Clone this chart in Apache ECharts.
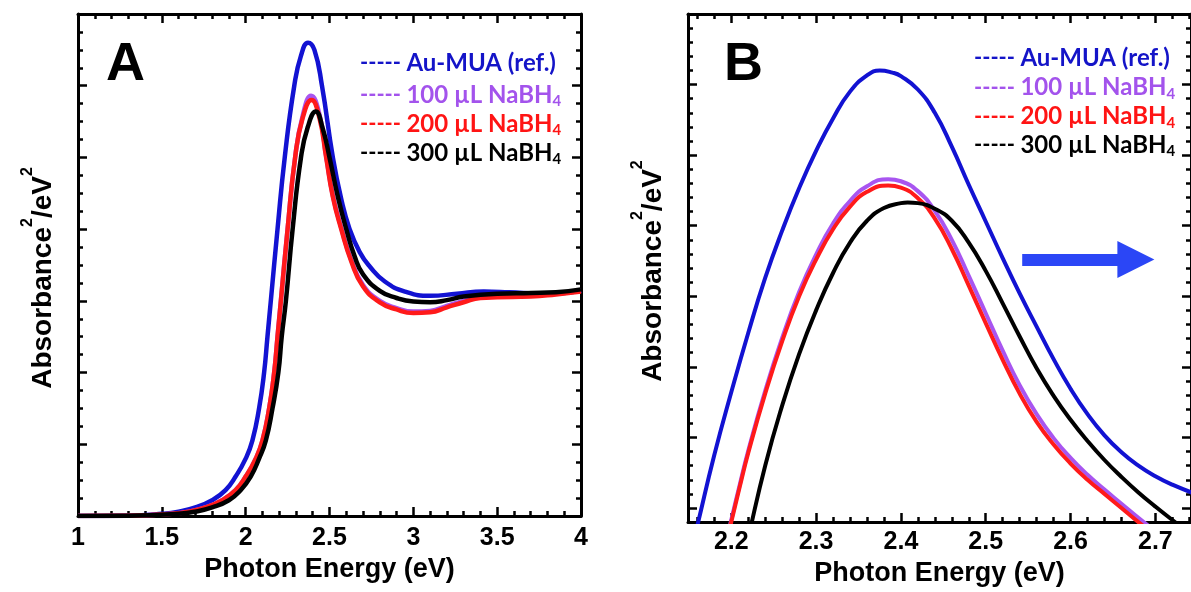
<!DOCTYPE html>
<html><head><meta charset="utf-8">
<script src="https://cdn.jsdelivr.net/npm/echarts@6/dist/echarts.min.js"></script>
<style>html,body{margin:0;padding:0;background:#fff}#c{width:1191px;height:592px}</style>
</head><body><div id="c"></div>
<script>
// ---------- data ----------
const seriesNames = ['Au-MUA (ref.)', '100 µL NaBH4', '200 µL NaBH4', '300 µL NaBH4'];

// Panel A: [photon energy (eV), absorbance^2/eV^2 (arb.)]
const aBlue = [[1.0,0],[1.3,0.005],[1.5,0.03],[1.6,0.06],[1.7,0.12],[1.8,0.22],[1.88,0.36],[1.94,0.55],[2.0,0.8],[2.04,1.05],[2.08,1.5],[2.11,2.0],[2.13,2.5],[2.15,3.0],[2.19,4.0],[2.233,5.0],[2.29,6.0],[2.33,6.42],[2.372,6.6],[2.41,6.5],[2.455,6.0],[2.52,5.0],[2.57,4.42],[2.62,4.0],[2.68,3.68],[2.74,3.48],[2.83,3.27],[2.95,3.13],[3.1,3.07],[3.26,3.1],[3.42,3.13],[3.57,3.12],[3.77,3.1],[3.9,3.11],[4.0,3.14]];
const aPurple = [[1.0,0],[1.3,0.004],[1.56,0.03],[1.66,0.06],[1.76,0.12],[1.86,0.22],[1.94,0.36],[2.0,0.55],[2.06,0.8],[2.1,1.05],[2.14,1.5],[2.17,2.0],[2.19,2.5],[2.21,3.0],[2.25,4.0],[2.295,5.0],[2.34,5.58],[2.39,5.86],[2.44,5.6],[2.48,5.02],[2.52,4.47],[2.57,4.02],[2.63,3.57],[2.7,3.22],[2.8,3.0],[2.9,2.9],[3.0,2.85],[3.1,2.86],[3.2,2.93],[3.3,3.0],[3.4,3.05],[3.5,3.06],[3.7,3.07],[3.85,3.1],[4.0,3.14]];
const aRed = [[1.0,0],[1.3,0.004],[1.56,0.03],[1.66,0.06],[1.76,0.12],[1.86,0.22],[1.94,0.36],[2.0,0.55],[2.06,0.8],[2.1,1.05],[2.14,1.5],[2.17,2.0],[2.19,2.5],[2.21,3.0],[2.25,4.0],[2.295,5.0],[2.34,5.55],[2.393,5.8],[2.44,5.55],[2.48,5.0],[2.52,4.45],[2.57,4.0],[2.63,3.55],[2.7,3.2],[2.8,2.98],[2.9,2.88],[3.0,2.83],[3.1,2.84],[3.2,2.91],[3.3,2.98],[3.4,3.04],[3.5,3.05],[3.7,3.06],[3.85,3.09],[4.0,3.13]];
const aBlack = [[1.0,0],[1.3,0.003],[1.6,0.03],[1.7,0.06],[1.8,0.12],[1.9,0.22],[1.97,0.36],[2.03,0.55],[2.08,0.8],[2.12,1.05],[2.16,1.5],[2.195,2.0],[2.215,2.5],[2.24,3.0],[2.28,4.0],[2.33,5.0],[2.37,5.42],[2.418,5.64],[2.46,5.4],[2.5,5.0],[2.55,4.45],[2.6,4.0],[2.65,3.62],[2.7,3.37],[2.8,3.14],[2.9,3.04],[3.0,2.99],[3.1,2.98],[3.2,3.01],[3.3,3.06],[3.5,3.1],[3.7,3.11],[3.85,3.12],[4.0,3.16]];

// Panel B (zoom of the plasmon peak): [photon energy (eV), absorbance^2/eV^2 (arb.)]
const bBlue = [[2.15,-0.75],[2.16,-0.25],[2.18,0.75],[2.2,1.64],[2.22,2.48],[2.24,3.26],[2.26,3.93],[2.28,4.53],[2.3,5.06],[2.32,5.52],[2.34,5.9],[2.36,6.13],[2.375,6.2],[2.39,6.17],[2.4,6.12],[2.42,5.93],[2.44,5.6],[2.46,5.12],[2.48,4.58],[2.5,4.06],[2.52,3.54],[2.54,3.04],[2.56,2.57],[2.58,2.11],[2.6,1.69],[2.62,1.33],[2.64,1.03],[2.66,0.79],[2.68,0.6],[2.7,0.45],[2.72,0.33],[2.745,0.21]];
const bPurple = [[2.19,-0.67],[2.2,-0.17],[2.21,0.33],[2.22,0.81],[2.24,1.66],[2.26,2.41],[2.28,3.06],[2.3,3.59],[2.32,4.03],[2.34,4.35],[2.36,4.56],[2.385,4.66],[2.4,4.63],[2.42,4.49],[2.44,4.21],[2.46,3.8],[2.48,3.29],[2.5,2.76],[2.52,2.23],[2.54,1.74],[2.56,1.33],[2.58,0.99],[2.6,0.71],[2.62,0.47],[2.64,0.26],[2.66,0.06],[2.68,-0.14],[2.7,-0.33]];
const bRed = [[2.19,-0.7],[2.2,-0.2],[2.21,0.3],[2.22,0.78],[2.24,1.62],[2.26,2.36],[2.28,3.0],[2.3,3.52],[2.32,3.95],[2.34,4.27],[2.36,4.48],[2.385,4.57],[2.4,4.54],[2.42,4.39],[2.44,4.1],[2.46,3.67],[2.48,3.15],[2.5,2.62],[2.52,2.1],[2.54,1.62],[2.56,1.22],[2.58,0.9],[2.6,0.63],[2.62,0.4],[2.64,0.2],[2.66,0.0],[2.68,-0.2],[2.7,-0.38]];
const bBlack = [[2.215,-0.68],[2.22,-0.42],[2.24,0.6],[2.26,1.45],[2.28,2.18],[2.3,2.8],[2.32,3.33],[2.34,3.76],[2.36,4.07],[2.38,4.25],[2.4,4.32],[2.408,4.33],[2.42,4.32],[2.44,4.24],[2.46,4.07],[2.48,3.76],[2.5,3.36],[2.52,2.9],[2.54,2.43],[2.56,1.98],[2.58,1.59],[2.6,1.25],[2.62,0.95],[2.64,0.68],[2.66,0.44],[2.68,0.22],[2.7,0.02],[2.72,-0.17],[2.74,-0.35]];

// axis ranges and ticks
const aXRange = [1, 4];
const aYRange = [0, 7];
const bXRange = [2.149, 2.742];
const bYRange = [-0.2, 7];
const bXTickLabels = [2.2, 2.3, 2.4, 2.5, 2.6, 2.7];
const bYMajorTicks = [0, 1, 2, 3, 4, 5, 6, 7];
// annotation arrow in panel B: [start, end] in data coords
const bArrow = [[2.543, 3.52], [2.677, 3.52]];

// ---------- styles ----------
const FONT = '"Liberation Sans", Arial, sans-serif';
const LFONT = 'Lato, "Open Sans", sans-serif';
const LINE_COLORS = ['#1212d2', '#a855f0', '#ff1a1a', '#000000'];
const TEXT_COLORS = ['#1414c8', '#a353ec', '#ff1414', '#000000'];
const BLACK = '#000';

const bXMinor = [], bYMinor = [];
for (let v = 2.16; v < bXRange[1]; v += 0.02) bXMinor.push(+v.toFixed(2));
for (let v = 0; v < bYRange[1]; v += 0.2) bYMinor.push(+v.toFixed(1));

const tickLS = {color: BLACK, width: 2.5};
const labelStyle = {fontSize: 25, fontWeight: 'bold', color: BLACK, fontFamily: FONT};
const xNameStyle = {fontSize: 27, fontWeight: 'bold', color: BLACK, fontFamily: FONT};
function yNameStyle(pad) {
  return {
    color: BLACK, fontFamily: FONT, fontWeight: 'bold', padding: pad,
    rich: {
      m: {fontSize: 28, fontWeight: 'bold', fontFamily: FONT, color: BLACK, lineHeight: 46},
      p: {fontSize: 16, fontWeight: 'bold', fontFamily: FONT, color: BLACK, lineHeight: 16, verticalAlign: 'top'}
    }
  };
}
const yName = '{m|Absorbance}{p|2}{m|/eV}{p|2}';

function base(extra) {
  return Object.assign({
    type: 'value', splitLine: {show: false}, minorSplitLine: {show: false},
    axisLine: {show: true, onZero: false, lineStyle: {color: BLACK, width: 3}},
    axisLabel: {show: false}, axisPointer: {show: false}
  }, extra);
}
const noLine = {show: false, onZero: false};

const xAxes = [
  // panel A
  base({gridIndex: 0, position: 'bottom', min: aXRange[0], max: aXRange[1], interval: 0.5,
    axisTick: {inside: true, length: 9, lineStyle: tickLS},
    minorTick: {show: true, splitNumber: 5, length: 5, lineStyle: tickLS},
    axisLabel: Object.assign({show: true, margin: 10, showMinLabel: true, showMaxLabel: true}, labelStyle),
    name: 'Photon Energy (eV)', nameLocation: 'middle', nameGap: 38, nameTextStyle: xNameStyle}),
  base({gridIndex: 0, position: 'top', min: aXRange[0], max: aXRange[1], interval: 0.5,
    axisTick: {inside: true, length: 9, lineStyle: tickLS},
    minorTick: {show: true, splitNumber: 5, length: 5, lineStyle: tickLS}}),
  // panel B
  base({gridIndex: 1, position: 'bottom', min: bXRange[0], max: bXRange[1],
    axisTick: {inside: true, length: 9, lineStyle: tickLS, customValues: bXTickLabels},
    axisLabel: Object.assign({show: true, margin: 8, customValues: bXTickLabels}, labelStyle),
    name: 'Photon Energy (eV)', nameLocation: 'middle', nameGap: 33, nameTextStyle: xNameStyle}),
  base({gridIndex: 1, position: 'bottom', min: bXRange[0], max: bXRange[1], axisLine: noLine,
    axisTick: {inside: true, length: 5, lineStyle: tickLS, customValues: bXMinor}}),
  base({gridIndex: 1, position: 'top', min: bXRange[0], max: bXRange[1],
    axisTick: {inside: true, length: 9, lineStyle: tickLS, customValues: bXTickLabels}}),
  base({gridIndex: 1, position: 'top', min: bXRange[0], max: bXRange[1], axisLine: noLine,
    axisTick: {inside: true, length: 5, lineStyle: tickLS, customValues: bXMinor}})
];

const yAxes = [
  base({gridIndex: 0, position: 'left', min: aYRange[0], max: aYRange[1], interval: 1,
    axisTick: {inside: true, length: 9, lineStyle: tickLS},
    minorTick: {show: true, splitNumber: 4, length: 5, lineStyle: tickLS},
    name: yName, nameLocation: 'middle', nameRotate: 90, nameGap: 12, nameTextStyle: yNameStyle([0, 26, 0, 0])}),
  base({gridIndex: 0, position: 'right', min: aYRange[0], max: aYRange[1], interval: 1,
    axisTick: {inside: true, length: 9, lineStyle: tickLS},
    minorTick: {show: true, splitNumber: 4, length: 5, lineStyle: tickLS}}),
  base({gridIndex: 1, position: 'left', min: bYRange[0], max: bYRange[1],
    axisTick: {inside: true, length: 9, lineStyle: tickLS, customValues: bYMajorTicks},
    name: yName, nameLocation: 'middle', nameRotate: 90, nameGap: 12, nameTextStyle: yNameStyle([0, 6, 0, 0])}),
  base({gridIndex: 1, position: 'left', min: bYRange[0], max: bYRange[1], axisLine: noLine,
    axisTick: {inside: true, length: 5, lineStyle: tickLS, customValues: bYMinor}}),
  base({gridIndex: 1, position: 'right', min: bYRange[0], max: bYRange[1],
    axisTick: {inside: true, length: 9, lineStyle: tickLS, customValues: bYMajorTicks}}),
  base({gridIndex: 1, position: 'right', min: bYRange[0], max: bYRange[1], axisLine: noLine,
    axisTick: {inside: true, length: 5, lineStyle: tickLS, customValues: bYMinor}})
];

function line(name, data, color, width, axisIdx, extra) {
  return Object.assign({
    type: 'line', name: name, data: data, xAxisIndex: axisIdx, yAxisIndex: axisIdx,
    symbol: 'none', showSymbol: false, smooth: 0.5, clip: true, silent: true,
    lineStyle: {color: color, width: width}, itemStyle: {color: color}
  }, extra || {});
}

const aData = [aBlue, aPurple, aRed, aBlack];
const bData = [bBlue, bPurple, bRed, bBlack];
const series = [];
aData.forEach((d, i) => series.push(line(seriesNames[i], d, LINE_COLORS[i], 4.5, 0)));
bData.forEach((d, i) => series.push(line(seriesNames[i], d, LINE_COLORS[i], 4, 2,
  i === 0 ? {markLine: {
    silent: true, animation: false, symbol: ['none', 'triangle'], symbolSize: [37, 37],
    label: {show: false}, emphasis: {disabled: true},
    lineStyle: {color: '#2b46f6', width: 12, type: 'solid', cap: 'butt'},
    data: [[{coord: bArrow[0]}, {coord: bArrow[1]}]]
  }} : {})));

// legend: text "-----" sample + coloured label, one legend component per row
const rich = {};
TEXT_COLORS.forEach((c, i) => {
  rich['d' + i] = {color: c, fontSize: 22, fontWeight: 'bold', fontFamily: LFONT, lineHeight: 28};
  rich['c' + i] = {color: c, fontSize: 24, fontWeight: 'bold', fontFamily: LFONT, lineHeight: 28};
  rich['s' + i] = {color: c, fontSize: 15, fontWeight: 'bold', fontFamily: LFONT, lineHeight: 12, verticalAlign: 'bottom'};
});
function legendFmt(name) {
  const i = seriesNames.indexOf(name);
  const dash = '{d' + i + '|----- }';
  if (i === 0) return dash + '{c0|' + name + '}';
  return dash + '{c' + i + '|' + name.slice(0, -1) + '}{s' + i + '|4}';
}
function rowLegend(name, left, top) {
  return {
    data: [name], orient: 'vertical', left: left, top: top, padding: 0, itemGap: 0,
    itemWidth: 0, itemHeight: 0, selectedMode: false, formatter: legendFmt,
    itemStyle: {opacity: 0}, lineStyle: {opacity: 0},
    textStyle: {rich: rich}
  };
}
const aLegendRows = [65, 97, 126, 155];
const bLegendRows = [60, 89.5, 118.5, 147];
const legends = [];
seriesNames.forEach((n, i) => legends.push(rowLegend(n, 354, aLegendRows[i] - 14)));
seriesNames.forEach((n, i) => legends.push(rowLegend(n, 968, bLegendRows[i] - 14)));

const option = {
  animation: false,
  backgroundColor: '#fff',
  title: [
    {text: 'A', left: 106, top: 38, padding: 0, textStyle: {fontSize: 54, fontWeight: 'bold', fontFamily: FONT, color: BLACK}},
    {text: 'B', left: 724, top: 38, padding: 0, textStyle: {fontSize: 54, fontWeight: 'bold', fontFamily: FONT, color: BLACK}}
  ],
  legend: legends,
  grid: [
    {left: 78, top: 14, width: 503, height: 502, containLabel: false},
    {left: 688, top: 14, width: 503, height: 511, containLabel: false}
  ],
  xAxis: xAxes,
  yAxis: yAxes,
  series: series
};

const chart = echarts.init(document.getElementById('c'), null, {renderer: 'canvas'});
chart.setOption(option);
</script></body></html>
